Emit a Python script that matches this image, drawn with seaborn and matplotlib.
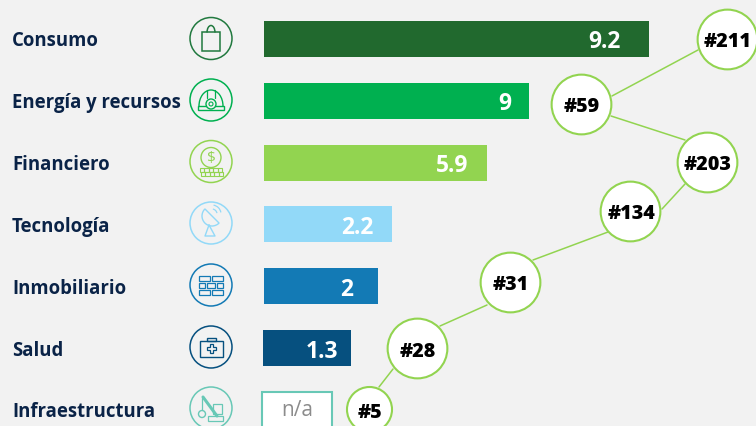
import matplotlib
matplotlib.use('Agg')
import numpy as np
import pandas as pd
import seaborn as sns
import matplotlib.pyplot as plt
from matplotlib.patches import Circle, Rectangle, Polygon, Wedge, Arc

sectors = ['Consumo', 'Energía y recursos', 'Financiero', 'Tecnología',
           'Inmobiliario', 'Salud', 'Infraestructura']
# largo dibujado de cada barra (no es proporcional a la etiqueta)
bar_len = [385, 265, 223, 128, 114, 88, 70]
value_labels = ['9.2', '9', '5.9', '2.2', '2', '1.3', 'n/a']
colors = ['#21692e', '#00b050', '#92d450', '#92d9f8', '#137ab5', '#06507f', '#ffffff']

rank_labels = ['#211', '#59', '#203', '#134', '#31', '#28', '#5']
rank_x = [463, 317, 443, 366, 246, 153, 105]
rank_row = [0, 1.05, 1.99, 2.78, 3.93, 5, 5.99]

# tramos entre circulos: no pasan por los centros
link_x = [[348, 434], [347, 421], [421, 398], [344, 269], [223, 176], [129, 115]]
link_row = [[0.922, 0.178], [1.246, 1.634], [2.346, 2.751],
            [3.123, 3.576], [4.304, 4.644], [5.34, 5.631]]

BG = '#f2f2f2'
NAVY = '#0a2347'
LIME = '#92d450'
TEAL = '#68c8b6'
ROW = 61.8

sns.set_theme(style='white')
plt.rcParams['font.family'] = ['Open Sans', 'DejaVu Sans']

fig = plt.figure(figsize=(7.56, 4.27), dpi=100, facecolor=BG)
ax = fig.add_axes([0, 0, 1, 1], facecolor=BG)

df = pd.DataFrame({'sector': sectors, 'largo': bar_len})
sns.barplot(data=df, x='largo', y='sector', hue='sector', palette=colors,
            width=36 / ROW, dodge=False, legend=False, saturation=1,
            edgecolor='none', ax=ax)
XLIM = (-264, 492)
YLIM = (6.262, -0.647)
ax.set_xlim(*XLIM)
ax.set_ylim(*YLIM)
ax.axis('off')

# Salud y la caja n/a arrancan un poco antes
ax.patches[5].set_x(-1)
ax.patches[6].set_x(-2.5)
ax.patches[6].set_edgecolor(TEAL)
ax.patches[6].set_linewidth(1.5)

# etiquetas de valor
gaps = [28, 18, 19, 18, 25, 14]
for i, lab in enumerate(value_labels[:-1]):
    ax.text(bar_len[i] - gaps[i], i + 8.5 / ROW, lab, color='white', fontsize=16.5,
            fontweight='bold', ha='right', va='baseline')
ax.text(33, 6.0, 'n/a', color='#8c8c8c', fontsize=15, ha='center', va='center')

# nombres de sector
for i, s in enumerate(sectors):
    ax.text(-252, i + 6.5 / ROW, s, color=NAVY, fontsize=13.35, fontweight='bold',
            ha='left', va='baseline')

# linea de ranking
for xs, ys in zip(link_x, link_row):
    sns.lineplot(x=xs, y=ys, sort=False, color=LIME, lw=1.1, ax=ax, zorder=3)
ranks = pd.DataFrame({'x': rank_x, 'y': rank_row})
sizes = [1850] * 6 + [1050]
for i in range(len(ranks)):
    sns.scatterplot(data=ranks.iloc[[i]], x='x', y='y', s=sizes[i], color='white',
                    edgecolor=LIME, linewidth=1.5, ax=ax, zorder=4, clip_on=False)
ax.set_xlim(*XLIM)
ax.set_ylim(*YLIM)
for x, y, lab in zip(rank_x, rank_row, rank_labels):
    ax.text(x + 1, y + 7.5 / ROW, lab, color='#000000', fontsize=14.2, fontweight=800,
            ha='center', va='baseline', zorder=5)

# iconos, en pixeles
ic = fig.add_axes([0, 0, 1, 1], facecolor='none')
ic.set_xlim(0, 756)
ic.set_ylim(427, 0)
ic.axis('off')
cx = 211
cy = [39.5, 101, 162.5, 224, 286, 348, 409]
icon_colors = ['#21793f', '#00b050', '#92d450', '#92d9f8', '#137ab5', '#06507f', TEAL]


def rect(x, y, w, h, c, lw=0.9):
    ic.add_patch(Rectangle((x, y), w, h, fill=False, ec=c, lw=lw))


for y, c in zip(cy, icon_colors):
    ic.add_patch(Circle((cx, y), 21, fill=False, ec=c, lw=1.1))

# bolsa
y, c = cy[0], icon_colors[0]
rect(cx - 9, y - 7, 18, 19, c, 1.1)
ic.add_patch(Arc((cx, y - 6), 8, 14, theta1=180, theta2=360, ec=c, lw=1.1))

# casco
y, c = cy[1], icon_colors[1]
ic.add_patch(Arc((cx, y + 6), 24, 32, theta1=180, theta2=360, ec=c, lw=1))
ic.plot([cx - 4, cx - 4], [y - 10, y - 2], color=c, lw=0.9)
ic.plot([cx + 4, cx + 4], [y - 10, y - 2], color=c, lw=0.9)
ic.add_patch(Rectangle((cx - 13, y + 6), 26, 4, fc='none', ec=c, lw=1))
ic.add_patch(Circle((cx, y + 4), 5, fc=BG, ec=c, lw=1, zorder=3))
ic.add_patch(Circle((cx, y + 4), 2, fill=False, ec=c, lw=0.8, zorder=3))

# moneda
y, c = cy[2], icon_colors[2]
ic.add_patch(Circle((cx, y - 4), 10, fill=False, ec=c, lw=1))
ic.text(cx, y - 4, '$', color=c, fontsize=11, ha='center', va='center')
for k in range(5):
    rect(cx - 11 + k * 4.4, y + 6, 4.4, 4, c, 0.8)
    rect(cx - 10 + k * 4.4, y + 10, 4.4, 4, c, 0.8)

# antena
y, c = cy[3], icon_colors[3]
ic.add_patch(Wedge((cx + 1, y - 7), 10, 45, 225, fill=False, ec=c, lw=1))
ic.plot([cx - 2, cx - 6, cx + 4, cx - 2], [y + 2, y + 13, y + 13, y + 2], color=c, lw=1)
ic.add_patch(Arc((cx + 1, y - 9), 10, 10, theta1=280, theta2=350, ec=c, lw=0.9))
ic.add_patch(Arc((cx + 1, y - 9), 18, 18, theta1=280, theta2=350, ec=c, lw=0.9))

# ladrillos
y, c = cy[4], icon_colors[4]
rect(cx - 12, y - 9, 11, 5, c)
rect(cx + 1, y - 9, 11, 5, c)
rect(cx - 12, y - 2, 6, 5, c)
rect(cx - 4, y - 2, 8, 5, c)
rect(cx + 6, y - 2, 6, 5, c)
rect(cx - 12, y + 5, 11, 5, c)
rect(cx + 1, y + 5, 11, 5, c)

# maletin
y, c = cy[5], icon_colors[5]
rect(cx - 11, y - 6, 23, 16, c, 1)
rect(cx - 4, y - 9, 9, 3, c, 1)
ic.add_patch(Polygon([(cx - 1, y - 3), (cx + 2, y - 3), (cx + 2, y), (cx + 5, y),
                      (cx + 5, y + 3), (cx + 2, y + 3), (cx + 2, y + 6), (cx - 1, y + 6),
                      (cx - 1, y + 3), (cx - 4, y + 3), (cx - 4, y), (cx - 1, y)],
                     fill=False, ec=c, lw=0.9))

# excavadora
y, c = cy[6], icon_colors[6]
ic.add_patch(Circle((cx - 9, y + 6), 3.5, fill=False, ec=c, lw=1))
ic.plot([cx - 9, cx - 9], [y + 2, y - 10], color=c, lw=0.9)
ic.plot([cx - 8, cx + 6], [y - 11, y + 8], color=c, lw=2.2)
rect(cx + 2, y - 4, 9, 10, c)
rect(cx - 3, y + 8, 15, 5, c)

fig.savefig('out.png', dpi=100, facecolor=BG)
